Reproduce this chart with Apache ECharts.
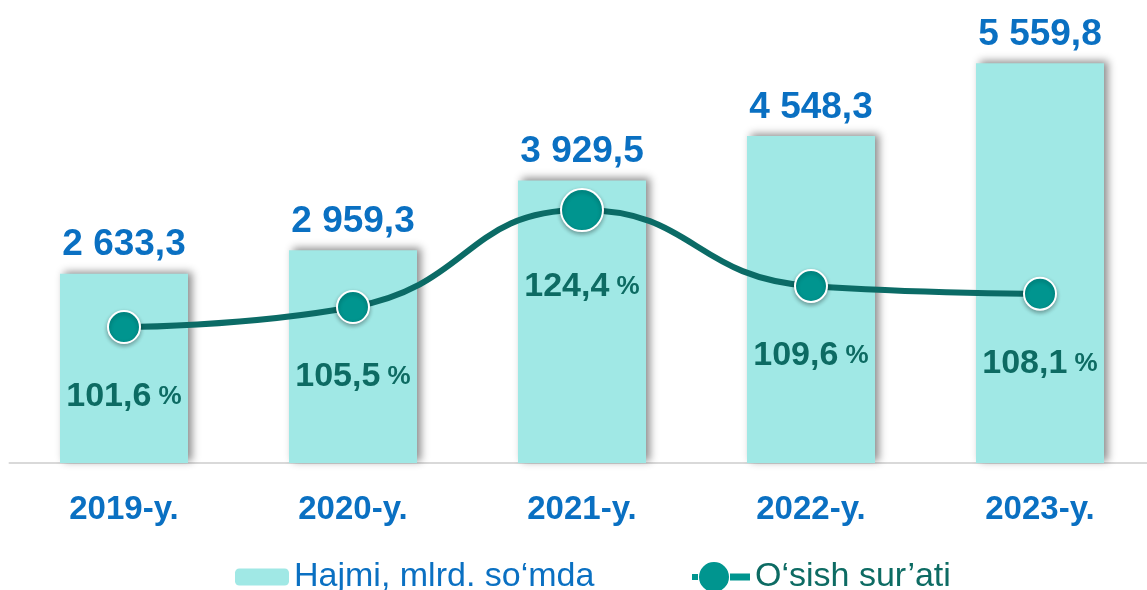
<!DOCTYPE html>
<html>
<head>
<meta charset="utf-8">
<title>Hajmi va o'sish sur'ati</title>
<script src="https://cdn.jsdelivr.net/npm/echarts@6/dist/echarts.min.js"></script>
<style>
  html, body { margin: 0; padding: 0; background: #ffffff; overflow: hidden; }
  /* chizma o'ng chetdan biroz chiqib turadi */
  #main { width: 1160px; height: 590px; }
</style>
</head>
<body>
<div id="main"></div>
<script>
// ma'lumotlar
var years = ['2019-y.', '2020-y.', '2021-y.', '2022-y.', '2023-y.'];
var volume = [2633.3, 2959.3, 3929.5, 4548.3, 5559.8];
var growth = [101.6, 105.5, 124.4, 109.6, 108.1];

var barName = 'Hajmi, mlrd. so‘mda';
var lineName = 'O‘sish sur’ati';

var FONT = '"Liberation Sans", Arial, sans-serif';
var BLUE = '#0A70C2';
var TEAL_TEXT = '#0D6B63';

// 2633.3 -> "2 633,3"
function fmtVolume(v) {
  var parts = v.toFixed(1).split('.');
  var int = parts[0].replace(/\B(?=(\d{3})+(?!\d))/g, ' ');
  return int + ',' + parts[1];
}

function fmtGrowth(v) {
  return v.toFixed(1).replace('.', ',');
}

var lineData = [];
for (var i = 0; i < growth.length; i++) {
  var item = { value: growth[i] };
  if (growth[i] == Math.max.apply(null, growth)) {
    // eng katta nuqta kattaroq
    item.symbolSize = 42;
    item.label = { distance: 38 };
  }
  lineData.push(item);
}

// legend belgisi: nuqta + doira + chiziqcha
var lineIcon = 'path://M0,12h6v6h-6z M7,15a15,15 0 1,0 30,0a15,15 0 1,0 -30,0z M38,11.5h20v7h-20z';

var chart = echarts.init(document.getElementById('main'), null, { renderer: 'canvas' });

var option = {
  backgroundColor: '#FFFFFF',
  animation: false,
  textStyle: { fontFamily: FONT },
  grid: { left: 9.5, top: 10, width: 1145, height: 453 },
  legend: [
    {
      data: [barName],
      left: 230,
      top: 555,
      itemWidth: 54,
      itemHeight: 17,
      textStyle: { color: BLUE, fontSize: 34, fontFamily: FONT }
    },
    {
      data: [{ name: lineName, icon: lineIcon, itemStyle: { color: '#00958F', borderWidth: 0 } }],
      left: 687,
      top: 555,
      itemWidth: 58,
      itemHeight: 30,
      textStyle: { color: TEAL_TEXT, fontSize: 34, fontFamily: FONT }
    }
  ],
  xAxis: {
    type: 'category',
    data: years,
    axisLine: { lineStyle: { color: '#D9D9D9', width: 2 } },
    axisTick: { show: false },
    axisLabel: {
      margin: 30,
      color: BLUE,
      fontSize: 33,
      fontWeight: 'bold',
      fontFamily: FONT
    }
  },
  yAxis: [
    {
      type: 'value',
      min: 0,
      max: 6300,
      show: false,
      splitLine: { show: false }
    },
    {
      type: 'value',
      min: 75.1,
      max: 163.4,
      show: false,
      splitLine: { show: false }
    }
  ],
  series: [
    {
      name: barName,
      type: 'bar',
      data: volume,
      barWidth: 128,
      itemStyle: {
        color: '#A0E8E5',
        shadowColor: 'rgba(0, 0, 0, 0.45)',
        shadowBlur: 8,
        shadowOffsetX: 4,
        shadowOffsetY: -2
      },
      label: {
        show: true,
        position: 'top',
        distance: 10,
        color: BLUE,
        fontSize: 37,
        fontWeight: 'bold',
        fontFamily: FONT,
        formatter: function (p) {
          return fmtVolume(p.value);
        }
      }
    },
    {
      name: lineName,
      type: 'line',
      yAxisIndex: 1,
      data: lineData,
      smooth: 0.5,
      symbol: 'circle',
      symbolSize: 32,
      lineStyle: { color: '#0B6B66', width: 6 },
      itemStyle: {
        color: '#00958F',
        borderColor: '#FFFFFF',
        borderWidth: 2,
        shadowColor: 'rgba(0, 0, 0, 0.3)',
        shadowBlur: 4,
        shadowOffsetY: 2
      },
      label: {
        show: true,
        position: 'bottom',
        distance: 36,
        formatter: function (p) {
          return '{a|' + fmtGrowth(p.value) + '}{b| %}';
        },
        rich: {
          a: { color: TEAL_TEXT, fontSize: 34, fontWeight: 'bold', fontFamily: FONT },
          b: { color: TEAL_TEXT, fontSize: 26, fontWeight: 'bold', fontFamily: FONT }
        }
      }
    }
  ]
};

chart.setOption(option);
</script>
</body>
</html>
